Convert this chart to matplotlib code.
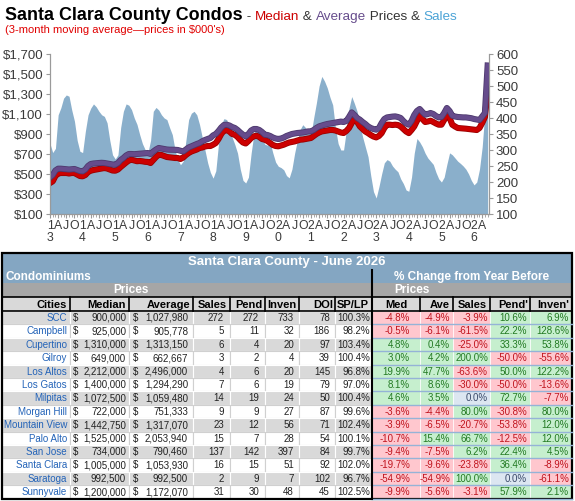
import numpy as np
import matplotlib.pyplot as plt
import matplotlib.patheffects as pe
from matplotlib.patches import Rectangle

plt.rcParams['font.family'] = ['Liberation Sans', 'DejaVu Sans']

# monthly 3-month moving averages, Jan 2013 .. Jun 2026
sales = [
    320, 292, 305, 410, 432, 462, 472, 468, 425, 390, 330, 296,   # 2013
    292, 358, 410, 431, 444, 435, 421, 410, 405, 385, 330, 285,   # 2014
    272, 285, 370, 421, 444, 440, 426, 400, 380, 348, 320, 301,   # 2015
    291, 330, 421, 433, 425, 410, 400, 395, 370, 348, 300, 270,   # 2016
    254, 265, 330, 395, 415, 421, 410, 380, 340, 300, 260, 230,   # 2017
    212, 235, 320, 380, 398, 395, 370, 340, 317, 290, 240, 205,   # 2018
    197, 215, 290, 350, 375, 365, 340, 318, 315, 323, 290, 262,   # 2019
    249, 245, 238, 220, 213, 240, 290, 330, 364, 379, 370, 355,   # 2020
    348, 400, 447, 500, 530, 515, 494, 465, 441, 369, 320, 300,   # 2021
    300, 360, 430, 467, 445, 420, 380, 341, 310, 279, 220, 170,   # 2022
    150, 185, 225, 260, 270, 265, 250, 240, 232, 210, 195, 175,   # 2023
    171, 215, 290, 336, 325, 310, 290, 275, 265, 255, 230, 210,   # 2024
    200, 215, 255, 291, 285, 275, 265, 258, 250, 240, 225, 205,   # 2025
    191, 200, 240, 310, 420, 550,                                 # 2026
]
median = [
    410, 427, 480, 505, 510, 510, 510, 505, 510, 510, 495, 480,
    477, 490, 520, 533, 540, 545, 550, 555, 560, 555, 545, 535,
    533, 545, 570, 593, 615, 635, 643, 635, 628, 630, 627, 622,
    620, 610, 640, 670, 693, 690, 680, 670, 667, 665, 660, 660,
    650, 665, 690, 710, 725, 735, 745, 760, 765, 775, 780, 780,
    793, 810, 850, 900, 935, 940, 925, 900, 893, 870, 840, 815,
    805, 830, 860, 877, 883, 870, 850, 843, 830, 810, 790, 780,
    777, 785, 793, 805, 815, 820, 826, 835, 843, 845, 850, 855,
    860, 880, 900, 915, 926, 930, 935, 940, 940, 935, 925, 915,
    910, 930, 960, 1010, 1066, 1020, 976, 950, 925, 909, 890, 875,
    866, 880, 909, 960, 993, 993, 990, 993, 990, 975, 950, 925,
    909, 940, 976, 1030, 1086, 1050, 1020, 1025, 1033, 1020, 1005, 993,
    993, 1040, 1110, 1060, 993, 975, 960, 958, 955, 953, 950, 948,
    945, 940, 960, 1010, 1070, 1340,
]
average = [
    466, 490, 535, 553, 553, 550, 548, 545, 548, 550, 540, 530,
    527, 545, 580, 600, 605, 608, 610, 612, 610, 605, 600, 595,
    593, 610, 640, 660, 685, 700, 700, 698, 700, 702, 705, 708,
    710, 700, 725, 745, 760, 755, 750, 745, 743, 743, 742, 740,
    733, 725, 745, 765, 777, 790, 800, 810, 827, 840, 850, 860,
    886, 900, 930, 965, 990, 993, 985, 970, 960, 940, 915, 893,
    876, 900, 935, 950, 950, 940, 920, 893, 890, 880, 865, 855,
    850, 855, 865, 880, 890, 900, 905, 910, 912, 915, 920, 926,
    926, 940, 960, 976, 985, 993, 1000, 1005, 1010, 1015, 1020, 1024,
    1020, 1030, 1070, 1116, 1090, 1060, 1043, 1020, 1000, 976, 960, 950,
    943, 960, 1010, 1050, 1066, 1070, 1074, 1076, 1070, 1060, 1030, 1005,
    993, 1030, 1090, 1130, 1150, 1120, 1093, 1100, 1110, 1100, 1080, 1066,
    1070, 1110, 1160, 1130, 1083, 1075, 1070, 1068, 1066, 1066, 1062, 1058,
    1050, 1045, 1040, 1075, 1110, 1585,
]
start_year = 2013

# table for June 2026
cities = ['SCC', 'Campbell', 'Cupertino', 'Gilroy', 'Los Altos', 'Los Gatos', 'Milpitas',
          'Morgan Hill', 'Mountain View', 'Palo Alto', 'San Jose', 'Santa Clara',
          'Saratoga', 'Sunnyvale']
med_price = [900000, 925000, 1310000, 649000, 2212000, 1400000, 1072500,
             722000, 1442750, 1525000, 734000, 1005000, 992500, 1200000]
avg_price = [1027980, 905778, 1313150, 662667, 2496000, 1294290, 1059480,
             751333, 1317070, 2053940, 790460, 1053930, 992500, 1172070]
n_sales = [272, 5, 6, 3, 4, 7, 14, 9, 23, 15, 137, 16, 2, 31]
pend = [272, 11, 4, 2, 6, 6, 19, 9, 12, 7, 142, 15, 9, 30]
inven = [733, 32, 20, 4, 20, 19, 24, 27, 56, 28, 397, 51, 7, 48]
doi = [78, 186, 97, 39, 145, 79, 50, 87, 71, 54, 84, 92, 102, 45]
sp_lp = [100.3, 98.2, 103.4, 100.4, 96.8, 97.0, 100.4, 99.6, 102.4, 100.1, 99.7, 102.0, 96.7, 102.5]
chg_med = [-4.8, -0.5, 4.8, 3.0, 19.9, 8.1, 4.6, -3.6, -3.9, -10.7, -9.4, -19.7, -54.9, -9.9]
chg_ave = [-4.9, -6.1, 0.4, 4.2, 47.7, 8.6, 3.5, -4.4, -6.5, 15.4, -7.5, -9.6, -54.9, -5.6]
chg_sales = [-3.9, -61.5, -25.0, 200.0, -63.6, -30.0, 0.0, 80.0, -20.7, 66.7, 6.2, -23.8, 100.0, -3.1]
chg_pend = [10.6, 22.2, 33.3, -50.0, 50.0, -50.0, 72.7, -30.8, -53.8, -12.5, 22.4, 36.4, 0.0, 57.9]
chg_inven = [6.9, 128.6, 53.8, -55.6, 122.2, -13.6, -7.7, 80.0, 12.0, 12.0, 4.5, -8.9, -61.1, 2.1]

W, H = 575, 501
fig = plt.figure(figsize=(W / 100, H / 100), dpi=100)

# ---------- chart ----------
x = np.arange(len(sales))
ax = fig.add_axes([50 / W, 1 - 214 / H, 439 / W, 160 / H])
ax2 = ax.twinx()
ax2.fill_between(x, 100, sales, color='#8AAFCB', lw=0, zorder=1)
ax2.set_ylim(100, 600)
ax2.set_yticks(range(100, 601, 50))

# lines above the area
ax.set_zorder(ax2.get_zorder() + 1)
ax.patch.set_visible(False)
ax.plot(x, median, color='#CC0000', lw=3.2, solid_joinstyle='round',
        path_effects=[pe.Stroke(linewidth=4.4, foreground='#9A0000'), pe.Normal()])
ax.plot(x, average, color='#664C8C', lw=3.2, solid_joinstyle='round',
        path_effects=[pe.Stroke(linewidth=4.4, foreground='#4E3A6E'), pe.Normal()])
ax.set_ylim(100, 1700)
ax.set_yticks(range(100, 1701, 200))
ax.set_yticklabels(['$%s' % format(v, ',') for v in range(100, 1701, 200)])
ax.set_xlim(0, len(sales) - 0.5)

major = list(range(0, len(sales), 3))
labels = []
for m in major:
    if m % 12 == 0:
        yy = (start_year + m // 12) % 100
        labels.append('%d\n%d' % (yy // 10, yy % 10))
    else:
        labels.append({3: 'A', 6: 'J', 9: 'O'}[m % 12])
ax.set_xticks(major)
ax.set_xticklabels(labels, linespacing=1.1)
ax.set_xticks(x, minor=True)

for a in (ax, ax2):
    a.spines['top'].set_visible(False)
    for s in ('left', 'right', 'bottom'):
        a.spines[s].set_color('#9A9A9A')
    a.tick_params(colors='#9A9A9A', labelcolor='#3A3A3A', labelsize=9.5, length=3, width=0.8)
ax.tick_params(axis='x', which='major', pad=1, labelsize=8.8)
ax.tick_params(axis='x', which='minor', length=2, colors='#9A9A9A')
ax.tick_params(axis='y', pad=2)
ax2.tick_params(axis='y', pad=2)

# ---------- title ----------
fig.canvas.draw()
rend = fig.canvas.get_renderer()
parts = [('Santa Clara County Condos', 'black', 12.9, 'bold'),
         (' - ', '#333333', 9.7, 'normal'),
         ('Median', '#CC0000', 9.7, 'normal'),
         (' & ', '#333333', 9.7, 'normal'),
         ('Average', '#664C8C', 9.7, 'normal'),
         (' Prices & ', '#333333', 9.7, 'normal'),
         ('Sales', '#4BA3D6', 9.7, 'normal')]
px = 5
for s, col, size, weight in parts:
    t = fig.text(px / W, 1 - 20 / H, s, color=col, fontsize=size, fontweight=weight, va='baseline')
    px = t.get_window_extent(renderer=rend).x1
fig.text(5 / W, 1 - 33 / H, "(3-month moving average\u2014prices in $000's)",
         color='#E00000', fontsize=8, va='baseline')

# ---------- table ----------
tab = fig.add_axes([0, 0, 1, 1])
tab.set_xlim(0, W)
tab.set_ylim(H, 0)
tab.axis('off')
tab.patch.set_visible(False)

col_x = [2, 70, 129, 193, 230, 265, 299, 335, 372, 420, 453, 490, 530, 572]
blue = '#84A6C2'
grey = '#A6A6A6'
light = '#D9D9D9'


def box(x0, y0, x1, y1, fc, ec='none', lw=0):
    tab.add_patch(Rectangle((x0, y0), x1 - x0, y1 - y0, fc=fc, ec=ec, lw=lw))


def txt(xp, yp, s, ha='right', color='#222222', size=7, weight='normal'):
    tab.text(xp, yp, s, ha=ha, va='center', color=color, fontsize=size, fontweight=weight)


top = 253
box(2, top, 572, 270, blue)
txt(287, 262, 'Santa Clara County - June 2026', ha='center', color='white', size=9.5, weight='bold')
box(2, 270, 572, 283, blue)
txt(5, 277, 'Condominiums', ha='left', color='white', size=8.5, weight='bold')
txt(472, 277, '% Change from Year Before', ha='center', color='white', size=8.5, weight='bold')
box(2, 283, 572, 297, grey)
txt(131, 290, 'Prices', ha='center', color='white', size=8.5, weight='bold')
txt(412, 290, 'Prices', ha='center', color='white', size=8.5, weight='bold')
box(2, 297, 572, 311, light)
heads = ['Cities', 'Median', 'Average', 'Sales', 'Pend', 'Inven', 'DOI', 'SP/LP',
         'Med', 'Ave', 'Sales', "Pend'", "Inven'"]
head_r = [67, 126, 190, 227, 262, 297, 333, 369, 408, 450, 487, 528, 569]
for h, r in zip(heads, head_r):
    txt(r, 304.5, h, color='black', size=8, weight='bold')
for cx in col_x[1:-1]:
    tab.plot([cx, cx], [297, 311], color='black', lw=1.2)
tab.plot([2, 572], [297, 297], color='black', lw=1.2)
tab.plot([2, 572], [311, 311], color='black', lw=1.2)

rh = 13.4
y = 311
for i in range(len(cities)):
    bg = light if i % 2 == 0 else 'white'
    sep = 'white' if i % 2 == 0 else '#D0D0D0'
    for c in range(8):
        box(col_x[c], y, col_x[c + 1], y + rh, bg, ec=sep, lw=0.8)
    yc = y + rh / 2 + 0.3
    txt(67, yc, cities[i], color='#2363B8')
    txt(73, yc, '$', ha='left')
    txt(126, yc, format(med_price[i], ','))
    txt(133, yc, '$', ha='left')
    txt(188, yc, format(avg_price[i], ','))
    txt(224, yc, str(n_sales[i]))
    txt(259, yc, str(pend[i]))
    txt(294, yc, str(inven[i]))
    txt(330, yc, str(doi[i]))
    txt(370, yc, '%.1f%%' % sp_lp[i])
    changes = [chg_med[i], chg_ave[i], chg_sales[i], chg_pend[i], chg_inven[i]]
    rights = [410, 450, 488, 527, 569]
    for k, v in enumerate(changes):
        if v > 0:
            fc, tc = '#C6EFCE', '#237A23'
        elif v < 0:
            fc, tc = '#FFC7CE', '#C0141E'
        else:
            fc, tc = '#DCE6F1', '#3A4A6A'
        box(col_x[8 + k], y, col_x[9 + k], y + rh, fc, ec='white', lw=0.5)
        txt(rights[k], yc, '%.1f%%' % v, color=tc)
    tab.plot([372, 572], [y + rh, y + rh], color='#95B3D7', lw=1)
    y += rh

bottom = y
tab.plot([372, 372], [270, bottom], color='black', lw=1.5)
tab.add_patch(Rectangle((2, top), 570, bottom - top, fc='none', ec='black', lw=1.6))

fig.savefig('out.png', dpi=100)
